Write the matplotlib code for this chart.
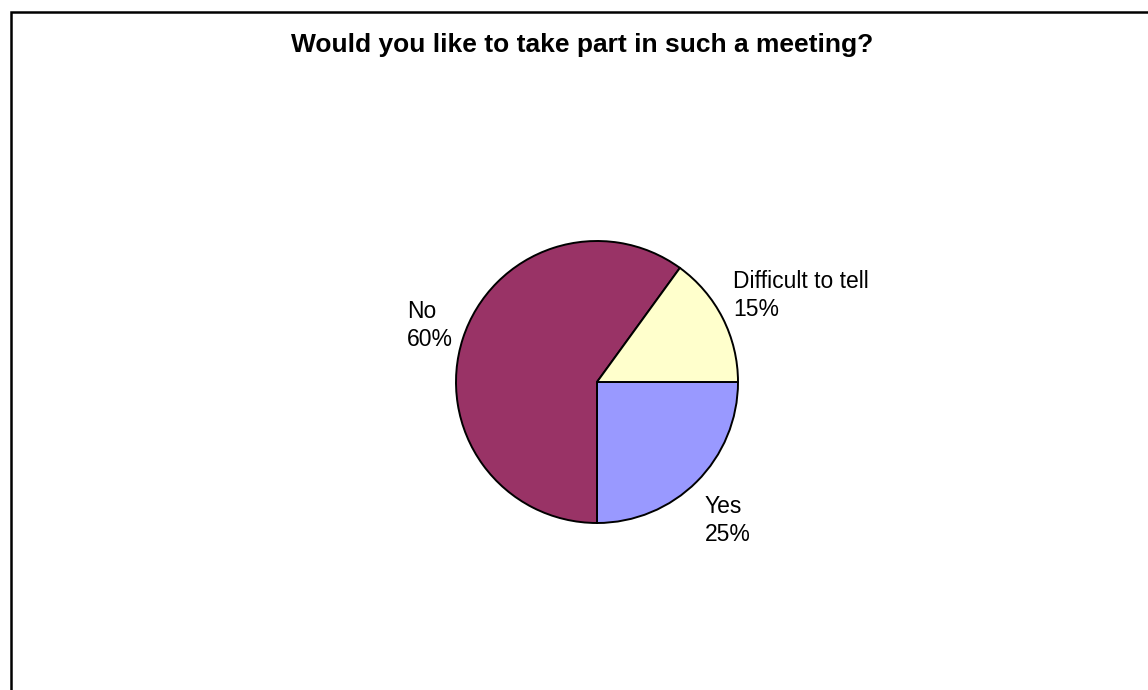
import matplotlib.pyplot as plt
from matplotlib.patches import Rectangle

plt.rcParams['font.family'] = ['Liberation Sans', 'DejaVu Sans']

# Survey answers, drawn clockwise starting at 3 o'clock
answers = ["Yes", "No", "Difficult to tell"]
shares = [25, 60, 15]
colors = ["#9999FF", "#993366", "#FFFFCC"]

W, H = 1148, 690
fig = plt.figure(figsize=(W / 100, H / 100), dpi=100)

# pie centre and radius in pixels
cx, cy, r = 597, 382, 141
ax = fig.add_axes([0, 0, 1, 1])
ax.pie(shares, colors=colors, startangle=0, counterclock=False, radius=1,
       wedgeprops=dict(edgecolor="black", linewidth=1.4))
ax.set_xlim(-cx / r, (W - cx) / r)
ax.set_ylim(-(H - cy) / r, cy / r)
ax.set_aspect("equal")
ax.axis("off")

# label anchors: left edge and first-line baseline, in pixels
label_pos = {
    "Yes": (705, 513),
    "No": (407, 318),
    "Difficult to tell": (733, 288),
}
line_gap = 28
for name, val in zip(answers, shares):
    px, py = label_pos[name]
    for i, line in enumerate([name, f"{val}%"]):
        ax.text((px - cx) / r, (cy - py - i * line_gap) / r, line,
                ha="left", va="baseline", fontsize=16.5)

fig.text(582 / W, 1 - 52 / H, "Would you like to take part in such a meeting?",
         ha="center", va="baseline", fontsize=19, fontweight="bold")

# chart area border (runs past the right and bottom edges)
fig.add_artist(Rectangle((10.5 / W, -0.1), 1.2, 1.1 - 12 / H, transform=fig.transFigure,
                         fill=False, edgecolor="black", linewidth=1.8))

fig.savefig("out.png", dpi=100, facecolor="white")
